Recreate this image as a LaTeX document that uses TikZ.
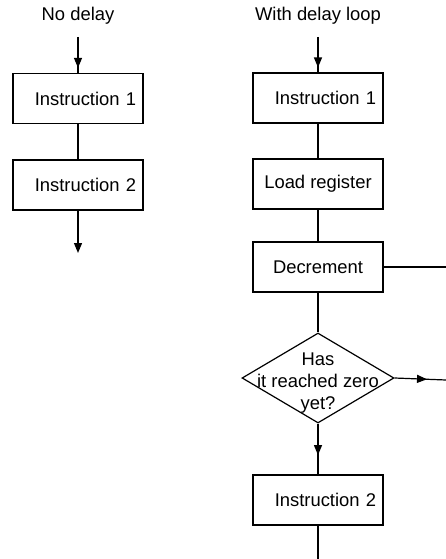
\documentclass[tikz,border=0pt]{standalone}
\usepackage{fontspec}
\setmainfont{Liberation Sans}
\usetikzlibrary{shapes.geometric,arrows.meta,decorations.markings}
\tikzset{
  box/.style={draw, line width=1.2pt, minimum width=130pt, minimum height=50pt, inner sep=0pt},
  instr/.style={box, text width=116pt, align=right, inner xsep=7pt},
  decision/.style={draw, diamond, line width=1.2pt, minimum width=152pt, minimum height=90pt, inner sep=0pt},
  flow/.style={line width=1.2pt},
  tipat/.style={postaction={decorate}, decoration={markings, mark=at position #1 with {\arrow{Triangle[length=10pt,width=8pt]}}}}
}
\begin{document}
\begin{tikzpicture}[x=1pt, y=-1pt, font=\fontsize{18.4}{22}\selectfont]
        \useasboundingbox (0,0) rectangle (446,559);

        % no delay
        \node (nodelay) at (78,16) {No delay};
        \coordinate (ain) at (78,37);
        \node[instr] (ia1) at (78,98.5) {Instruction 1};
        \node[instr] (ia2) at (78,185) {Instruction 2};
        \coordinate (aout) at (78,253);
        \draw[flow, tipat=0.86] (ain) -- (ia1);
        \draw[flow] (ia1) -- (ia2);
        \draw[flow, -{Triangle[length=10pt,width=8pt]}] (ia2) -- (aout);

        % with delay loop
        \node (withdelay) at (318,16) {With delay loop};
        \coordinate (bin) at (318,37);
        \node[instr] (ib1) at (318,98) {Instruction 1};
        \node[box] (load) at (318,184) {Load register};
        \node[box] (dec) at (318,267) {Decrement};
        \node[decision, label={[align=center, yshift=-5pt]center:Has\\it reached zero\\yet?}] (zero) at (318,378) {};
        \node[instr] (ib2) at (318,500) {Instruction 2};
        \coordinate (bout) at (318,559);
        \coordinate (decloop) at (446,267);
        \coordinate (zeroloop) at (446,380);

        \draw[flow, tipat=0.86] (bin) -- (ib1);
        \draw[flow] (ib1) -- (load);
        \draw[flow] (load) -- (dec);
        \draw[flow] (dec) -- (zero);
        \draw[flow, tipat=0.62] (zero) -- (ib2);
        \draw[flow] (ib2) -- (bout);
        \draw[flow] (dec) -- (decloop);
        \draw[flow, tipat=0.63] (zero.east) -- (zeroloop);
    \end{tikzpicture}
\end{document}
